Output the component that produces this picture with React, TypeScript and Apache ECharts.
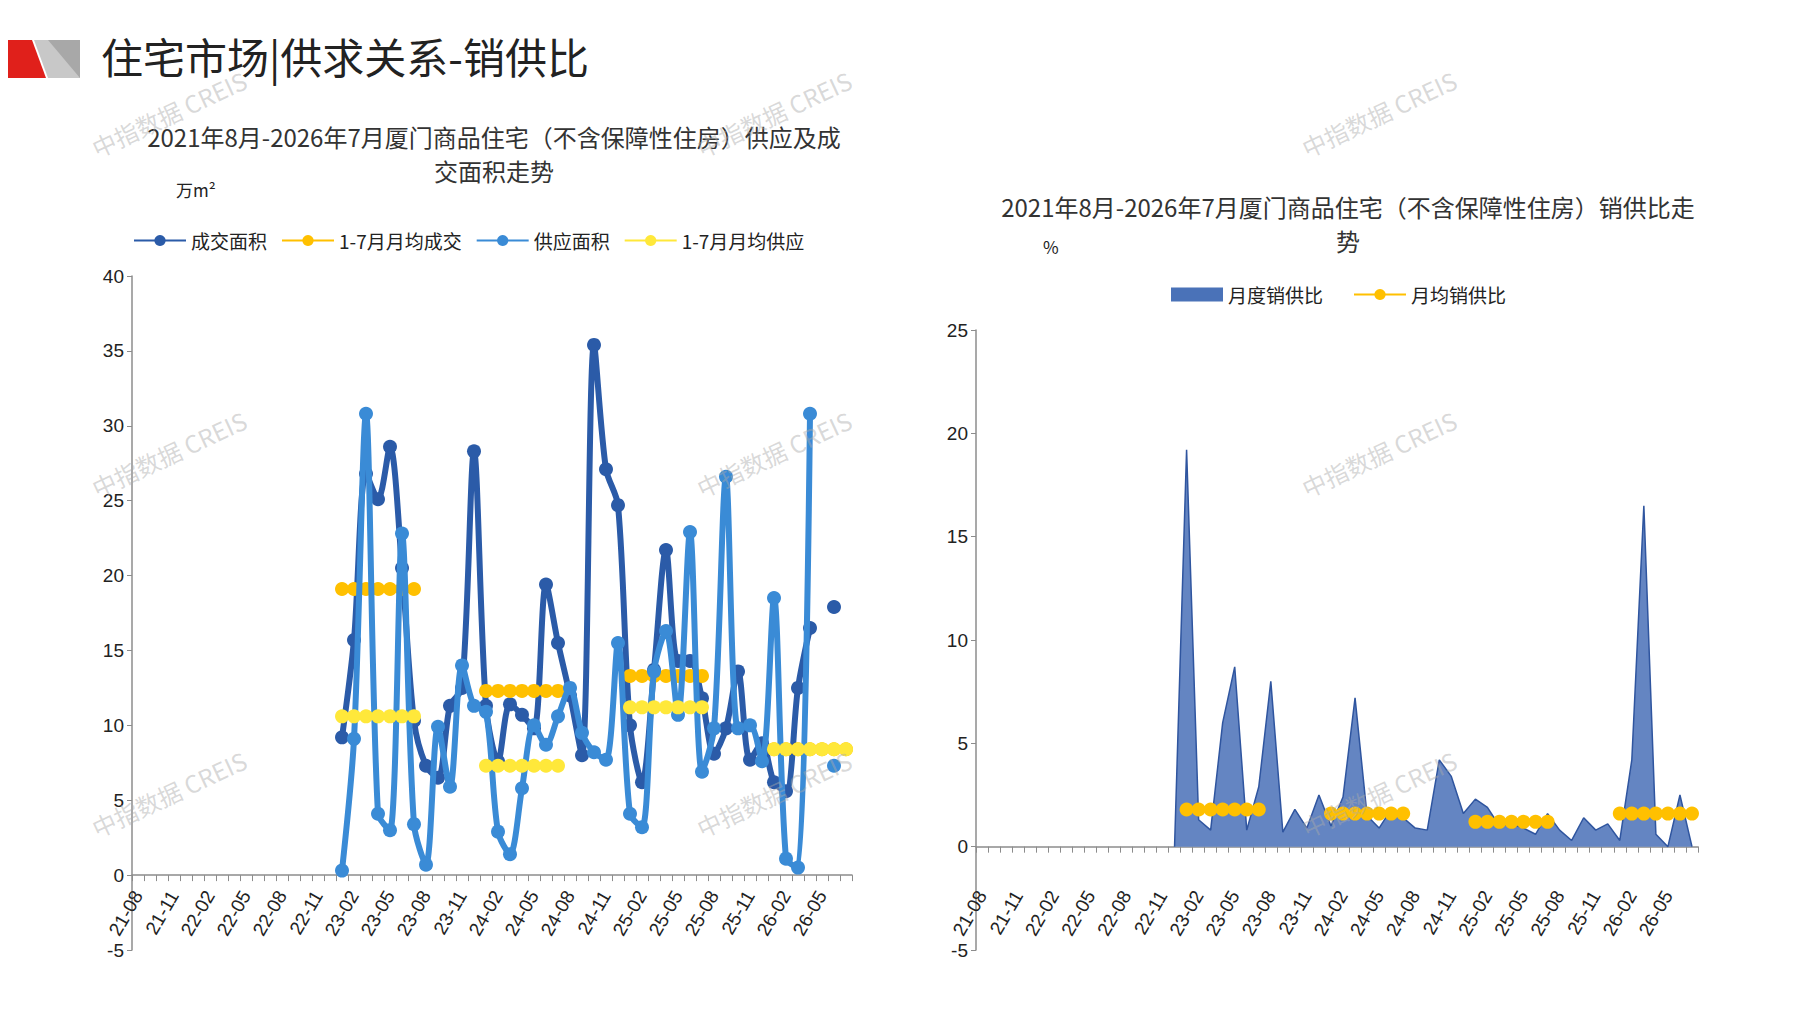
import * as echarts from "echarts";
import { useEffect, useRef } from "react";

const months: string[] = [];
for (let y = 21; y <= 26; y++) {
  for (let m = 1; m <= 12; m++) {
    if ((y === 21 && m < 8) || (y === 26 && m > 7)) continue;
    months.push(`${y}-${String(m).padStart(2, "0")}`);
  }
}

const pad = (n: number) => Array(n).fill(null);

// 23-01 .. 26-07
const dealArea = [
  9.2, 15.7, 26.8, 25.1, 28.6, 20.5, 10.3, 7.3, 6.5, 11.3, 12.5, 28.3,
  11.3, 7.6, 11.4, 10.7, 9.8, 19.4, 15.5, 12.0, 8.0, 35.4, 27.1, 24.7,
  10.0, 6.2, 13.7, 21.7, 14.3, 14.3, 11.8, 8.1, 9.8, 13.6, 7.7, 8.8,
  6.2, 5.6, 12.5, 16.5, null, 17.9, null,
];
const supplyArea = [
  0.3, 9.1, 30.8, 4.1, 3.0, 22.8, 3.4, 0.7, 9.9, 5.9, 14.0, 11.3,
  10.9, 2.9, 1.4, 5.8, 10.0, 8.7, 10.6, 12.5, 9.5, 8.2, 7.7, 15.5,
  4.1, 3.2, 13.6, 16.3, 10.7, 22.9, 6.9, 9.8, 26.6, 9.8, 10.0, 7.6,
  18.5, 1.1, 0.5, 30.8, null, 7.3, null,
];
// 1-7 month averages for 2023, 2024, 2025, 2026
const dealAvgByYear = [19.1, 12.3, 13.3, 8.4];
const supplyAvgByYear = [10.6, 7.3, 11.2, 8.4];

// 22-12 .. 26-07
const ratio = [
  0, 19.2, 1.3, 0.8, 6.0, 8.7, 0.8, 2.9, 8.0, 0.7, 1.8, 0.9, 2.5,
  1.0, 2.4, 7.2, 1.5, 0.9, 1.8, 1.4, 0.9, 0.8, 4.2, 3.4, 1.6,
  2.3, 1.9, 1.0, 1.1, 0.9, 0.6, 1.6, 0.8, 0.3, 1.4, 0.8, 1.1,
  0.3, 4.2, 16.5, 0.6, 0.0, 2.5, 0.0,
];
const ratioAvgByYear = [1.8, 1.6, 1.2, 1.6];

const avgSeries = (vals: number[]) => {
  const out: (number | null)[] = pad(months.length);
  vals.forEach((v, i) => {
    const start = months.indexOf(`${23 + i}-01`);
    for (let k = 0; k < 7; k++) out[start + k] = v;
  });
  return out;
};

const FONT = "Noto Sans CJK SC";

export default function App() {
  const ref = useRef<HTMLDivElement | null>(null);

  useEffect(() => {
    if (!ref.current) return;
    const chart = echarts.init(ref.current, undefined, { renderer: "svg" });
    const start = months.indexOf("23-01");

    const xAxisBase = {
      type: "category" as const,
      data: months,
      axisLine: { onZero: true, lineStyle: { color: "#8c8c8c", width: 1.5 } },
      axisTick: { show: true, interval: 0, length: 6, lineStyle: { color: "#8c8c8c" } },
      axisLabel: { interval: 2, rotate: 60, fontSize: 19, color: "#222", fontFamily: "Arial", margin: -58 },
    };
    const yAxisBase = {
      type: "value" as const,
      interval: 5,
      splitLine: { show: false },
      axisLine: { show: true, lineStyle: { color: "#8c8c8c", width: 1.5 } },
      axisTick: { show: true, lineStyle: { color: "#8c8c8c" } },
      axisLabel: { fontSize: 19, color: "#222", fontFamily: "Arial" },
    };

    const wm = (x: number, y: number) => ({
      type: "text",
      x,
      y,
      rotation: (25 * Math.PI) / 180,
      z: 100,
      style: { text: "中指数据 CREIS", fill: "rgba(170,170,170,0.45)", font: `24px ${FONT}` },
    });

    const lineSeries = (name: string, data: (number | null)[], color: string, z: number, smooth: boolean) => ({
      name,
      type: "line",
      data,
      smooth: smooth ? 0.3 : false,
      showAllSymbol: true,
      symbol: "circle",
      symbolSize: 14,
      lineStyle: { width: 6, color },
      itemStyle: { color },
      z,
    });

    chart.setOption({
      animation: false,
      textStyle: { fontFamily: FONT },
      title: [
        {
          text: "2021年8月-2026年7月厦门商品住宅（不含保障性住房）供应及成\n交面积走势",
          left: 481,
          top: 106,
          textAlign: "center",
          textStyle: { fontSize: 24, fontWeight: "normal", color: "#333", lineHeight: 34, fontFamily: FONT },
        },
        {
          text: "2021年8月-2026年7月厦门商品住宅（不含保障性住房）销供比走\n势",
          left: 1335,
          top: 176,
          textAlign: "center",
          textStyle: { fontSize: 24, fontWeight: "normal", color: "#333", lineHeight: 34, fontFamily: FONT },
        },
      ],
      legend: [
        {
          data: ["成交面积", "1-7月月均成交", "供应面积", "1-7月月均供应"],
          left: 120,
          top: 218,
          itemWidth: 52,
          itemHeight: 14,
          itemGap: 14,
          textStyle: { fontSize: 19, color: "#222", fontFamily: FONT },
        },
        {
          data: [{ name: "月度销供比", icon: "rect" }, "月均销供比"],
          left: 1158,
          top: 272,
          itemWidth: 52,
          itemHeight: 14,
          itemGap: 30,
          textStyle: { fontSize: 19, color: "#222", fontFamily: FONT },
        },
      ],
      grid: [
        { left: 124, top: 268, width: 720, height: 674 },
        { left: 968, top: 322, width: 722, height: 620 },
      ],
      xAxis: [
        { ...xAxisBase, gridIndex: 0 },
        { ...xAxisBase, gridIndex: 1 },
      ],
      yAxis: [
        { ...yAxisBase, gridIndex: 0, min: -5, max: 40 },
        { ...yAxisBase, gridIndex: 1, min: -5, max: 25 },
      ],
      series: [
        lineSeries("成交面积", [...pad(start), ...dealArea], "#2B5BA8", 3, true),
        lineSeries("1-7月月均成交", avgSeries(dealAvgByYear), "#FFC000", 4, false),
        lineSeries("供应面积", [...pad(start), ...supplyArea], "#3A8BD6", 5, true),
        lineSeries("1-7月月均供应", avgSeries(supplyAvgByYear), "#FFE83A", 6, false),
        {
          name: "月度销供比",
          type: "line",
          xAxisIndex: 1,
          yAxisIndex: 1,
          data: [...pad(start - 1), ...ratio],
          symbol: "none",
          lineStyle: { width: 1.5, color: "#2F559F" },
          itemStyle: { color: "#4A72B8" },
          areaStyle: { color: "#6485C2", opacity: 1 },
        },
        {
          ...lineSeries("月均销供比", avgSeries(ratioAvgByYear), "#FFC000", 4, false),
          xAxisIndex: 1,
          yAxisIndex: 1,
        },
      ],
      graphic: [
        { type: "polygon", shape: { points: [[0, 32], [24, 32], [38, 70], [0, 70]] }, style: { fill: "#E0201B" } },
        { type: "polygon", shape: { points: [[26, 32], [72, 32], [72, 70], [40, 70]] }, style: { fill: "#C8C8C8" } },
        { type: "polygon", shape: { points: [[40, 32], [72, 32], [72, 70]] }, style: { fill: "#A8A8A8" } },
        {
          type: "text",
          left: 93,
          top: 26,
          style: { text: "住宅市场|供求关系-销供比", font: `42px ${FONT}`, fill: "#222" },
        },
        { type: "text", left: 168, top: 173, style: { text: "万m²", font: `17px ${FONT}`, fill: "#222" } },
        { type: "text", left: 1035, top: 230, style: { text: "%", font: `17px ${FONT}`, fill: "#222" } },
        wm(80, 130),
        wm(685, 130),
        wm(1290, 130),
        wm(80, 470),
        wm(685, 470),
        wm(1290, 470),
        wm(80, 810),
        wm(685, 810),
        wm(1290, 810),
      ],
    });

    return () => chart.dispose();
  }, []);

  return <div ref={ref} style={{ width: 1781, height: 994 }} />;
}
